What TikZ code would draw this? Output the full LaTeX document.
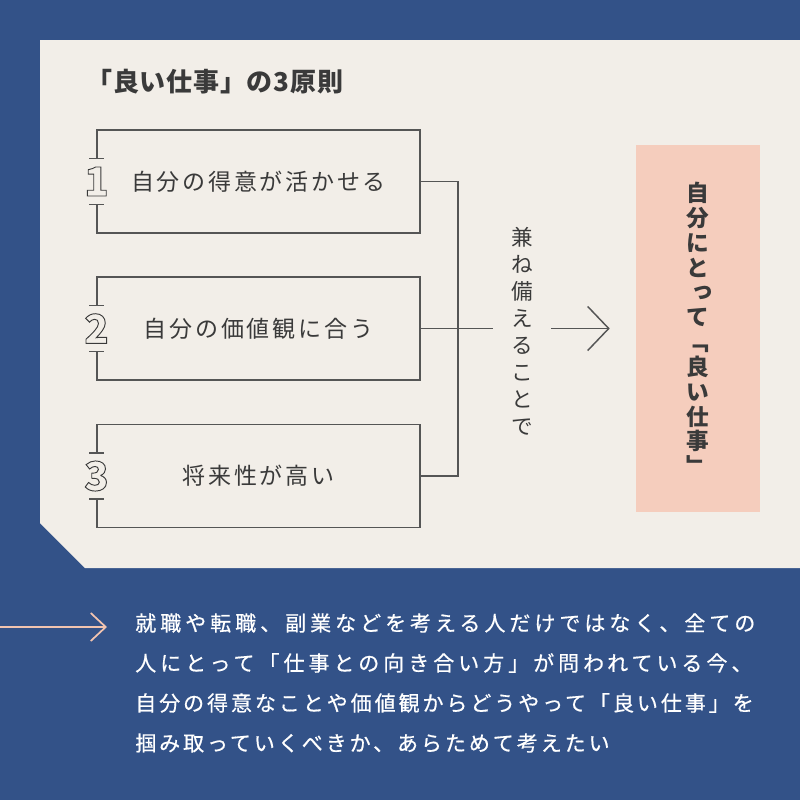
\documentclass[tikz,border=0pt]{standalone}
\usepackage{fontspec}
\setmainfont{Noto Sans CJK JP}
\usetikzlibrary{arrows.meta}

\definecolor{navy}{HTML}{335288}
\definecolor{paper}{HTML}{F2EEE8}
\definecolor{peach}{HTML}{F5CDBD}
\definecolor{ink}{HTML}{3A3A3A}
\definecolor{rule}{HTML}{555555}
\definecolor{salmon}{HTML}{F2C4B0}

% hollow digits for the numbered brackets
\newcommand{\hollow}[1]{\special{pdf:literal direct 1 Tr 0.7 w}#1\special{pdf:literal direct 0 Tr}}
% small tsu set the vertical way
\newcommand{\vtsu}{\makebox[1em][l]{\hspace{0.22em}\raisebox{0.12em}{っ}}}

\begin{document}
\begin{tikzpicture}[x=0.75pt,y=-0.75pt,
  principle/.style={draw=rule,line width=1.1pt,rectangle,minimum width=323*0.75pt,minimum height=103*0.75pt,
    inner sep=0pt,text=ink,font=\addfontfeature{LetterSpace=12}\fontsize{17.25pt}{20pt}\selectfont},
  num/.style={text=ink,inner sep=0pt,font=\bfseries\fontsize{30pt}{30pt}\selectfont},
  wire/.style={draw=rule,line width=1.1pt}]
  \useasboundingbox[fill=navy] (0,0) rectangle (800,800);
  \fill[paper] (40,40) -- (800,40) -- (800,568) -- (85,568) -- (40,523) -- cycle;

  \node[anchor=west,text=ink,inner sep=0pt,font=\bfseries\addfontfeature{LetterSpace=3}\fontsize{19.5pt}{20pt}\selectfont] (title) at (86,82) {「良い仕事」の3原則};

  \node[principle] (p1) at (258.5,181.5) {自分の得意が活かせる};
  \node[principle] (p2) at (258.5,328.5) {自分の価値観に合う};
  \node[principle] (p3) at (258.5,476) {将来性が高い};

  % paper-coloured gap in the left side, with ticks
  \foreach \n/\y in {1/181.5,2/328.5,3/476} {
    \fill[paper] (90,\y-23) rectangle (104,\y+23);
    \draw[wire] (89,\y-23) -- (104,\y-23);
    \draw[wire] (89,\y+23) -- (104,\y+23);
    \node[num] (n\n) at (96.5,\y) {\hollow{\n}};
  }

  \node[fill=peach,minimum width=124*0.75pt,minimum height=367*0.75pt,inner sep=0pt,
    align=center,text=ink,font=\bfseries\fontsize{17pt}{18.6pt}\selectfont] (goal) at (698,328.5)
    {自\\分\\に\\と\\\vtsu\\て\\﹁\\良\\い\\仕\\事\\﹂};

  \node[align=center,text=ink,inner xsep=0pt,minimum width=58*0.75pt,
    font=\fontsize{16.2pt}{20.25pt}\selectfont] (kanete) at (522,331)
    {兼\\ね\\備\\え\\る\\こ\\と\\で};

  \draw[wire] (p1.east) -- (458,181.5) |- (p3.east);
  \draw[wire] (p2.east) -- (kanete.west |- p2.east);
  \draw[wire,-{Straight Barb[length=21*0.75pt,width=44*0.75pt,line width=1.1pt]},shorten >=26*0.75pt]
    (kanete.east |- p2.east) -- (goal.west |- p2.east);

  \node[anchor=north west,align=left,text=white,inner sep=0pt,
    font=\addfontfeature{LetterSpace=14,FakeBold=0.6}\fontsize{15.75pt}{30pt}\selectfont] (msg) at (135,613)
    {{\addfontfeature{LetterSpace=19}就職や転職、副業などを考える人だけではなく、全ての}\\
     {\addfontfeature{LetterSpace=19}人にとって「仕事との向き合い方」が問われている今、}\\
     自分の得意なことや価値観からどうやって「良い仕事」を\\
     掴み取っていくべきか、あらためて考えたい};

  \coordinate (from) at (0,627);
  \coordinate (to) at (107,627);
  \draw[salmon,line width=1.3pt,-{Straight Barb[length=15*0.75pt,width=28*0.75pt,line width=1.3pt]}]
    (from) -- (to);
\end{tikzpicture}
\end{document}
